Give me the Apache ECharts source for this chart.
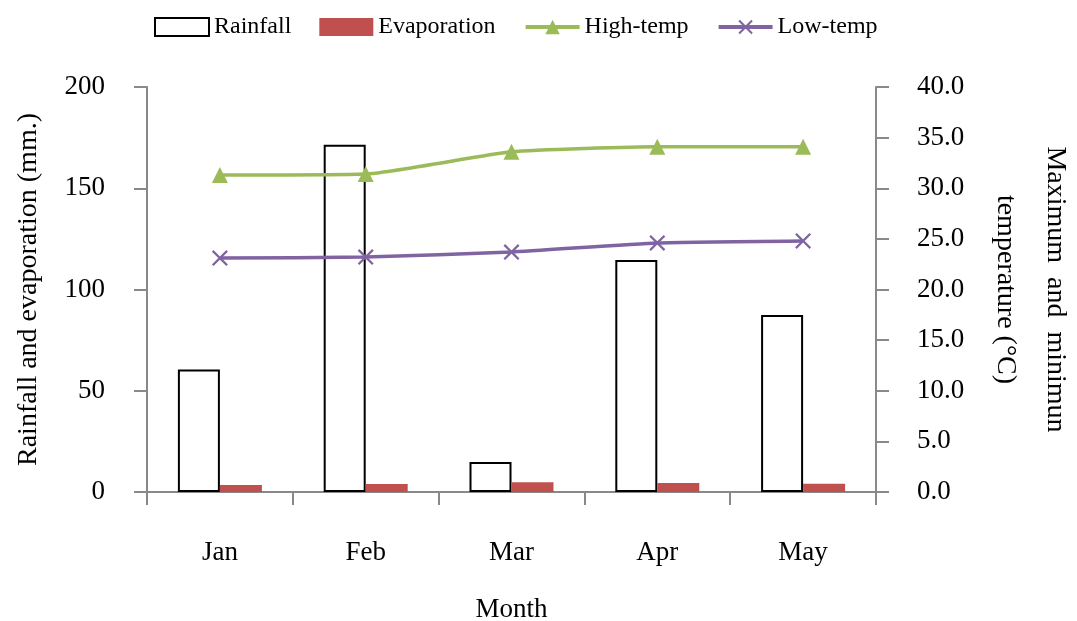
<!DOCTYPE html>
<html>
<head>
<meta charset="utf-8">
<script src="https://cdn.jsdelivr.net/npm/echarts@6/dist/echarts.min.js"></script>
<style>html,body{margin:0;padding:0;background:#fff;}#c{width:1077px;height:621px;}</style>
</head>
<body>
<div id="c"></div>
<script>
const months = ['Jan', 'Feb', 'Mar', 'Apr', 'May'];
const rainfall = [60.5, 171.5, 14.8, 114.6, 87.4];
const evaporation = [3.5, 4.0, 4.8, 4.4, 4.1];
const highTemp = [31.3, 31.4, 33.6, 34.1, 34.1];
const lowTemp = [23.1, 23.2, 23.7, 24.6, 24.8];

const FONT = '"Liberation Serif", "Times New Roman", serif';
const AXIS_COLOR = '#898989';
const xSymbol = 'path://M0,1 L1,0 L5,4 L9,0 L10,1 L6,5 L10,9 L9,10 L5,6 L1,10 L0,9 L4,5 Z';

const chart = echarts.init(document.getElementById('c'), null, {renderer: 'canvas'});
chart.setOption({
  animation: false,
  backgroundColor: '#fff',
  textStyle: {fontFamily: FONT, color: '#000'},
  legend: {
    left: 149, top: 10,
    itemWidth: 54, itemHeight: 18, itemGap: 28,
    textStyle: {fontFamily: FONT, fontSize: 24, color: '#000'},
    data: [
      {name: 'Rainfall', icon: 'rect', itemStyle: {color: '#fff', borderColor: '#000', borderWidth: 2}},
      {name: 'Evaporation', icon: 'rect'},
      {name: 'High-temp', lineStyle: {width: 4}},
      {name: 'Low-temp', lineStyle: {width: 4}}
    ]
  },
  grid: {left: 147, right: 201, top: 87, bottom: 129, containLabel: false, outerBoundsMode: 'none'},
  xAxis: {
    type: 'category',
    data: months,
    boundaryGap: true,
    name: 'Month',
    nameLocation: 'middle',
    nameGap: 104,
    nameTextStyle: {fontFamily: FONT, fontSize: 27, color: '#000'},
    axisLine: {lineStyle: {color: AXIS_COLOR, width: 2}},
    axisTick: {show: true, length: 13, alignWithLabel: false, lineStyle: {color: AXIS_COLOR, width: 2}},
    axisLabel: {margin: 47, fontFamily: FONT, fontSize: 27, color: '#000'},
    splitLine: {show: false}
  },
  yAxis: [
    {
      type: 'value', min: 0, max: 200, interval: 50,
      name: 'Rainfall and evaporation (mm.)',
      nameLocation: 'middle', nameRotate: 90, nameGap: 104,
      nameTextStyle: {fontFamily: FONT, fontSize: 28, color: '#000'},
      axisLine: {show: true, lineStyle: {color: AXIS_COLOR, width: 2}},
      axisTick: {show: true, length: 13, lineStyle: {color: AXIS_COLOR, width: 2}},
      axisLabel: {margin: 42, fontFamily: FONT, fontSize: 27, color: '#000'},
      splitLine: {show: false}
    },
    {
      type: 'value', min: 0, max: 40, interval: 5,
      name: 'Maximum  and  minimun\ntemperature (°C)',
      nameLocation: 'middle', nameRotate: -90, nameGap: 104,
      nameTextStyle: {fontFamily: FONT, fontSize: 28, color: '#000', lineHeight: 50, align: 'center'},
      axisLine: {show: true, lineStyle: {color: AXIS_COLOR, width: 2}},
      axisTick: {show: true, length: 13, lineStyle: {color: AXIS_COLOR, width: 2}},
      axisLabel: {margin: 41, fontFamily: FONT, fontSize: 27, color: '#000', formatter: v => v.toFixed(1)},
      splitLine: {show: false}
    }
  ],
  series: [
    {
      name: 'Rainfall', type: 'bar', yAxisIndex: 0, data: rainfall,
      barWidth: 42, barGap: '0%',
      itemStyle: {color: '#fff', borderColor: '#000', borderWidth: 2}
    },
    {
      name: 'Evaporation', type: 'bar', yAxisIndex: 0, data: evaporation,
      barWidth: 42, barGap: '0%',
      itemStyle: {color: '#C0504D'}
    },
    {
      name: 'High-temp', type: 'line', yAxisIndex: 1, data: highTemp,
      smooth: 0.15,
      symbol: 'triangle', symbolSize: 16,
      lineStyle: {color: '#9BBB59', width: 3.5},
      itemStyle: {color: '#9BBB59'}
    },
    {
      name: 'Low-temp', type: 'line', yAxisIndex: 1, data: lowTemp,
      smooth: 0.15,
      symbol: xSymbol, symbolSize: 16,
      lineStyle: {color: '#8064A2', width: 3.5},
      itemStyle: {color: '#8064A2'}
    }
  ]
});
</script>
</body>
</html>
